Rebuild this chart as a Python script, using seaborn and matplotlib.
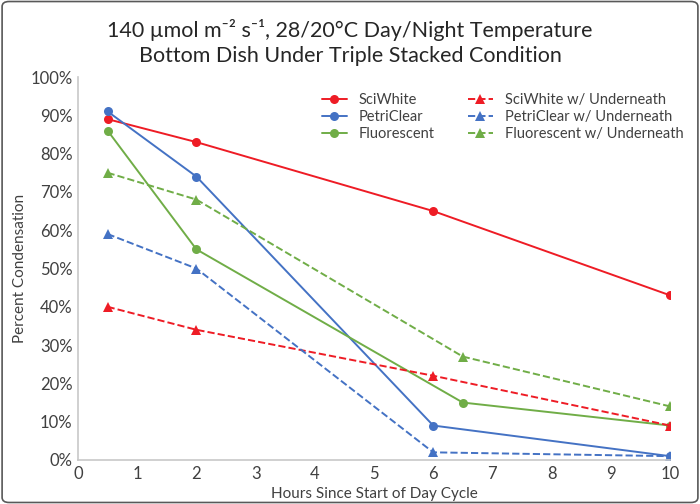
import matplotlib
matplotlib.use("Agg")
import matplotlib.pyplot as plt
import seaborn as sns
import pandas as pd
from matplotlib.ticker import PercentFormatter
from matplotlib.patches import FancyBboxPatch

hours_a = [0.5, 2, 6, 10]
hours_b = [0.5, 2, 6.5, 10]
sciwhite = [89, 83, 65, 43]
petriclear = [91, 74, 9, 1]
fluorescent = [86, 55, 15, 9]
sciwhite_u = [40, 34, 22, 9]
petriclear_u = [59, 50, 2, 1]
fluorescent_u = [75, 68, 27, 14]

series = [
    ("SciWhite", hours_a, sciwhite, "#ee1c25", "-", "o"),
    ("PetriClear", hours_a, petriclear, "#4472c4", "-", "o"),
    ("Fluorescent", hours_b, fluorescent, "#70ad47", "-", "o"),
    ("SciWhite w/ Underneath", hours_a, sciwhite_u, "#ee1c25", "--", "^"),
    ("PetriClear w/ Underneath", hours_a, petriclear_u, "#4472c4", "--", "^"),
    ("Fluorescent w/ Underneath", hours_b, fluorescent_u, "#70ad47", "--", "^"),
]

sns.set_style("white")
plt.rcParams['font.family'] = ['Lato', 'DejaVu Sans']

fig = plt.figure(figsize=(7, 5.04), dpi=100)
ax = fig.add_axes([78/700, 1-460/504, (670-78)/700, (460-77)/504])

for name, xs, ys, c, ls, mk in series:
    df = pd.DataFrame({"x": xs, "y": ys})
    sns.lineplot(data=df, x="x", y="y", ax=ax, color=c, linestyle=ls, marker=mk,
                 markersize=6.5, markeredgewidth=0, linewidth=1.4, label=name)

ax.set_xlim(0, 10)
ax.set_ylim(0, 100)
ax.set_xticks(range(0, 11))
ax.set_yticks(range(0, 101, 10))
ax.yaxis.set_major_formatter(PercentFormatter(decimals=0))
ax.tick_params(axis='both', labelsize=12, colors="#404040", length=0, pad=4)
for s in ["top", "right"]:
    ax.spines[s].set_visible(False)
for s in ["left", "bottom"]:
    ax.spines[s].set_color("#c8c8c8")
    ax.spines[s].set_linewidth(1.2)
ax.set_xlabel("Hours Since Start of Day Cycle", fontsize=11, color="#404040", labelpad=4)
ax.set_ylabel("Percent Condensation", fontsize=11, color="#404040", labelpad=2)

leg = ax.legend(ncol=2, loc="upper left", bbox_to_anchor=(0.395, 0.985),
                frameon=False, fontsize=10.5, handlelength=1.7, columnspacing=2.3,
                labelspacing=0.2, handletextpad=0.8, borderaxespad=0.3)
for t in leg.get_texts():
    t.set_color("#404040")

fig.text(0.5, 1-30/504, "140 µmol m⁻² s⁻¹, 28/20°C Day/Night Temperature",
         ha="center", va="center", fontsize=15.5, color="#262626")
fig.text(0.5, 1-56/504, "Bottom Dish Under Triple Stacked Condition",
         ha="center", va="center", fontsize=15.5, color="#262626")

border = FancyBboxPatch((0.003, 0.003), 0.994, 0.994, boxstyle="round,pad=0,rounding_size=0.01",
                        transform=fig.transFigure, fill=False, edgecolor="#595959", linewidth=1.2)
fig.patches.append(border)

fig.savefig("out.png", dpi=100)
